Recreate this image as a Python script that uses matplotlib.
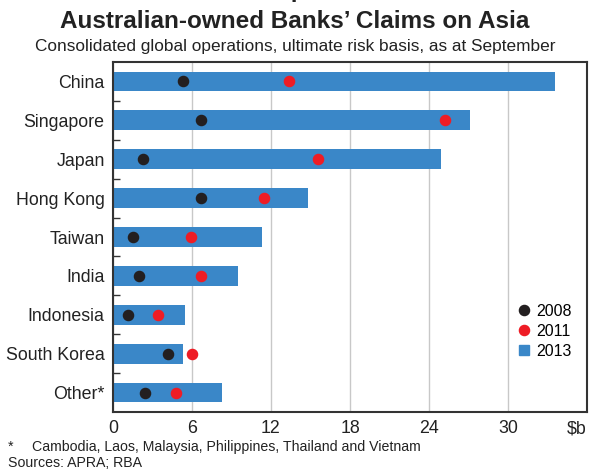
import matplotlib as mpl
mpl.use('Agg')
import matplotlib.pyplot as plt
from matplotlib.lines import Line2D

#
#--- data ($b)
#
countries = ['China', 'Singapore', 'Japan', 'Hong Kong', 'Taiwan', 'India',
             'Indonesia', 'South Korea', 'Other*']
val_2013 = [33.6, 27.1, 24.9, 14.8, 11.3, 9.5, 5.5, 5.3, 8.3]
val_2011 = [13.4, 25.2, 15.6, 11.5, 5.9, 6.7, 3.45, 6.0, 4.75]
val_2008 = [5.3, 6.7, 2.25, 6.65, 1.55, 2.0, 1.15, 4.2, 2.45]
xticks = [0, 6, 12, 18, 24, 30, 36]
xtick_labels = ['0', '6', '12', '18', '24', '30', '$b']

blue = '#3a87c8'
red = '#ee1c25'
black = '#231f20'

plt.rcParams['font.family'] = ['Liberation Sans', 'DejaVu Sans']

fig = plt.figure(figsize=(5.9, 4.71), dpi=100)
ax = fig.add_axes([113 / 590, 1 - 412 / 471, 474 / 590, 350 / 471])

ypos = list(range(len(countries)))
ax.barh(ypos, val_2013, height=0.51, color=blue, zorder=2)
ax.plot(val_2008, ypos, 'o', color=black, markersize=7.3, zorder=3)
ax.plot(val_2011, ypos, 'o', color=red, markersize=7.3, zorder=3)

ax.set_xlim(0, 36)
ax.set_ylim(len(countries) - 0.5, -0.5)
ax.set_xticks(xticks)
ax.set_xticklabels(xtick_labels, fontsize=12.8, color='#222222')
ax.get_xticklabels()[-1].set_ha('right')
ax.set_yticks(ypos)
ax.set_yticklabels(countries, fontsize=12.8, color='#222222')
ax.set_yticks([i + 0.5 for i in ypos[:-1]], minor=True)

ax.tick_params(axis='x', length=0, pad=6)
ax.tick_params(axis='y', which='major', length=0, pad=6)
ax.tick_params(axis='y', which='minor', direction='in', length=5, width=1, color='#333333')

ax.grid(axis='x', color='#c8c8c8', lw=1, zorder=1)
for s in ax.spines.values():
    s.set_color('#333333')
    s.set_linewidth(1.5)

#
#--- legend
#
handles = [Line2D([], [], ls='none', marker='o', color=black, markersize=7.3),
           Line2D([], [], ls='none', marker='o', color=red, markersize=7.3),
           Line2D([], [], ls='none', marker='s', color=blue, markersize=7.3)]
ax.legend(handles, ['2008', '2011', '2013'], loc='upper left',
          bbox_to_anchor=(506 / 590, 1 - 296 / 471), bbox_transform=fig.transFigure,
          frameon=False, fontsize=11.5, handletextpad=0.2, labelspacing=0.3,
          handlelength=1.2, borderpad=0)

#
#--- titles and notes
#
fig.text(0.5, 1 - 2 / 471, 'Graph 8', ha='center', va='bottom', fontsize=17.5,
         fontweight='bold', color='#222222')
fig.text(0.5, 1 - 22 / 471, 'Australian-owned Banks\u2019 Claims on Asia', ha='center',
         va='center', fontsize=17.5, fontweight='bold', color='#222222')
fig.text(0.5, 1 - 46 / 471, 'Consolidated global operations, ultimate risk basis, as at September',
         ha='center', va='center', fontsize=12.4, color='#222222')
fig.text(8 / 590, 1 - 447 / 471, '*', ha='left', va='center', fontsize=10.2, color='#222222')
fig.text(32 / 590, 1 - 447 / 471, 'Cambodia, Laos, Malaysia, Philippines, Thailand and Vietnam',
         ha='left', va='center', fontsize=10.2, color='#222222')
fig.text(8 / 590, 1 - 463 / 471, 'Sources: APRA; RBA', ha='left', va='center',
         fontsize=10.2, color='#222222')

plt.savefig('out.png', dpi=100)
